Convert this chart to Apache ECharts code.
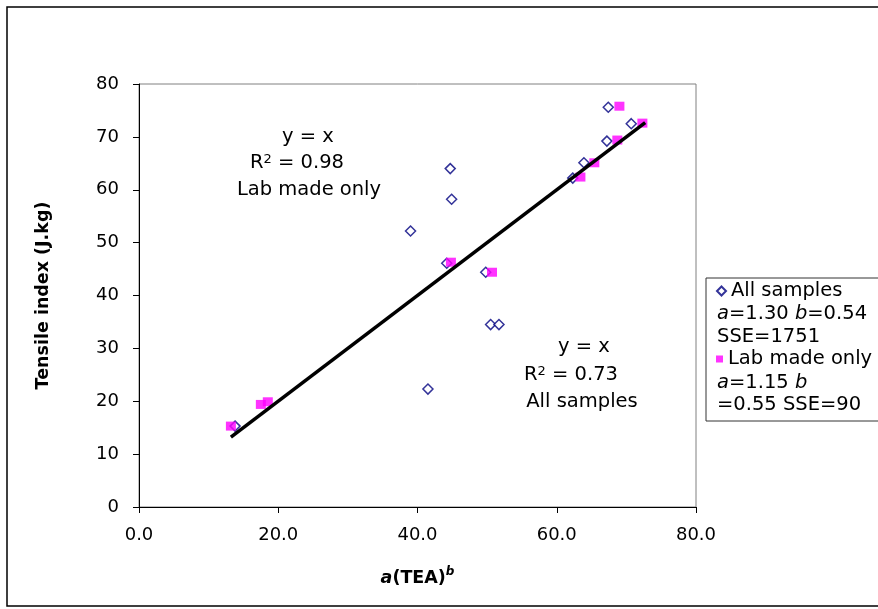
<!DOCTYPE html>
<html>
<head>
<meta charset="utf-8">
<script src="https://cdn.jsdelivr.net/npm/echarts@6/dist/echarts.min.js"></script>
<style>html,body{margin:0;padding:0;background:#fff;}#c{width:878px;height:609px;}</style>
</head>
<body>
<div id="c"></div>
<script>
// ---- data ----
const allX = [13.8, 39.0, 41.5, 44.2, 44.7, 44.9, 49.8, 50.5, 51.7, 62.3, 63.9, 67.2, 67.4, 70.7];
const allY = [15.3, 52.2, 22.3, 46.1, 64.0, 58.2, 44.4, 34.5, 34.5, 62.2, 65.1, 69.2, 75.6, 72.5];
const labX = [13.2, 17.5, 18.5, 44.8, 50.7, 63.4, 65.4, 68.7, 69.0, 72.3];
const labY = [15.3, 19.4, 19.9, 46.3, 44.4, 62.4, 65.1, 69.4, 75.8, 72.6];
const lineX = [13.2, 72.7];
const lineY = [13.2, 72.7];
const xTicks = [0, 20, 40, 60, 80];
const yTicks = [0, 10, 20, 30, 40, 50, 60, 70, 80];
const seriesNames = ['All samples', 'Lab made only'];

const FONT = 'DejaVu Sans';
const TS = 19.5;
const zip = (xs, ys) => xs.map((x, i) => [x, ys[i]]);

const chart = echarts.init(document.getElementById('c'), null, {renderer: 'canvas'});
chart.setOption({
  animation: false,
  backgroundColor: '#ffffff',
  grid: {left: 139, top: 84, width: 557, height: 423, show: true, borderColor: '#808080', borderWidth: 1, backgroundColor: 'transparent'},
  xAxis: {
    type: 'value', min: xTicks[0], max: xTicks[xTicks.length - 1], interval: 20,
    axisLine: {lineStyle: {color: '#000', width: 1}},
    axisTick: {show: true, inside: false, length: 6, lineStyle: {color: '#000'}},
    splitLine: {show: false},
    axisLabel: {color: '#000', fontFamily: FONT, fontSize: 18, margin: 19, formatter: v => v.toFixed(1)},
    name: '{i|a}{n|(TEA)}{s|b}', nameLocation: 'middle', nameGap: 59,
    nameTextStyle: {
      rich: {
        i: {fontFamily: FONT, fontSize: 17.5, fontWeight: 'bold', fontStyle: 'italic', color: '#000', lineHeight: 21, verticalAlign: 'bottom'},
        n: {fontFamily: FONT, fontSize: 17.5, fontWeight: 'bold', color: '#000', lineHeight: 21, verticalAlign: 'bottom'},
        s: {fontFamily: FONT, fontSize: 12, fontWeight: 'bold', fontStyle: 'italic', color: '#000', verticalAlign: 'top', lineHeight: 12}
      }
    }
  },
  yAxis: {
    type: 'value', min: yTicks[0], max: yTicks[yTicks.length - 1], interval: 10,
    axisLine: {lineStyle: {color: '#000', width: 1}},
    axisTick: {show: true, inside: false, length: 6, lineStyle: {color: '#000'}},
    splitLine: {show: false},
    axisLabel: {color: '#000', fontFamily: FONT, fontSize: 18, margin: 20},
    name: 'Tensile index (J.kg)', nameLocation: 'middle', nameGap: 87,
    nameTextStyle: {fontFamily: FONT, fontSize: 17.5, fontWeight: 'bold', color: '#000'}
  },
  legend: [
    {data: [seriesNames[0]], orient: 'vertical', left: 716, top: 281, padding: 0, itemGap: 4,
     itemWidth: 9, itemHeight: 9, textStyle: {fontFamily: FONT, fontSize: TS, color: '#000', lineHeight: 19}},
    {data: [seriesNames[1]], orient: 'vertical', left: 716, top: 349, padding: 0,
     itemWidth: 7, itemHeight: 7, textStyle: {fontFamily: FONT, fontSize: TS, color: '#000', lineHeight: 19}}
  ],
  series: [
    {name: seriesNames[0], type: 'scatter', data: zip(allX, allY), symbol: 'diamond', symbolSize: 10,
     itemStyle: {color: '#ffffff', borderColor: '#000080', borderWidth: 1.5}, z: 2},
    {name: seriesNames[1], type: 'scatter', data: zip(labX, labY), symbol: 'rect', symbolSize: [10, 9],
     itemStyle: {color: '#ff00ff'}, z: 3},
    {name: 'y = x', type: 'line', data: zip(lineX, lineY), showSymbol: false, symbol: 'none',
     lineStyle: {color: '#000', width: 3.5}, z: 4, silent: true}
  ],
  graphic: [
    {type: 'rect', shape: {x: 7, y: 7, width: 890, height: 599}, style: {fill: 'none', stroke: '#000', lineWidth: 1.5}, z: -1, silent: true},
    {type: 'rect', shape: {x: 706, y: 278, width: 200, height: 143}, style: {fill: 'none', stroke: '#333', lineWidth: 1}, silent: true},
    // legend detail lines
    {type: 'text', x: 717, y: 314, style: {text: '{i|a}=1.30 {i|b}=0.54', font: TS + 'px ' + FONT, fill: '#000', verticalAlign: 'middle',
      rich: {i: {fontFamily: FONT, fontSize: TS, fontStyle: 'italic', fill: '#000'}}}},
    {type: 'text', x: 717, y: 337, style: {text: 'SSE=1751', font: TS + 'px ' + FONT, fill: '#000', verticalAlign: 'middle'}},
    {type: 'text', x: 717, y: 383, style: {text: '{i|a}=1.15 {i|b}', font: TS + 'px ' + FONT, fill: '#000', verticalAlign: 'middle',
      rich: {i: {fontFamily: FONT, fontSize: TS, fontStyle: 'italic', fill: '#000'}}}},
    {type: 'text', x: 717, y: 405, style: {text: '=0.55 SSE=90', font: TS + 'px ' + FONT, fill: '#000', verticalAlign: 'middle'}},
    // annotations
    {type: 'text', x: 308, y: 137, style: {text: 'y = x', font: TS + 'px ' + FONT, fill: '#000', align: 'center', verticalAlign: 'middle'}},
    {type: 'text', x: 297, y: 163, style: {text: 'R{s|2} = 0.98', font: TS + 'px ' + FONT, fill: '#000', align: 'center', verticalAlign: 'middle',
      rich: {s: {fontFamily: FONT, fontSize: 13, verticalAlign: 'top', lineHeight: 13, fill: '#000'}}}},
    {type: 'text', x: 309, y: 190, style: {text: 'Lab made only', font: TS + 'px ' + FONT, fill: '#000', align: 'center', verticalAlign: 'middle'}},
    {type: 'text', x: 584, y: 347, style: {text: 'y = x', font: TS + 'px ' + FONT, fill: '#000', align: 'center', verticalAlign: 'middle'}},
    {type: 'text', x: 571, y: 375, style: {text: 'R{s|2} = 0.73', font: TS + 'px ' + FONT, fill: '#000', align: 'center', verticalAlign: 'middle',
      rich: {s: {fontFamily: FONT, fontSize: 13, verticalAlign: 'top', lineHeight: 13, fill: '#000'}}}},
    {type: 'text', x: 582, y: 402, style: {text: 'All samples', font: TS + 'px ' + FONT, fill: '#000', align: 'center', verticalAlign: 'middle'}}
  ]
});
</script>
</body>
</html>
